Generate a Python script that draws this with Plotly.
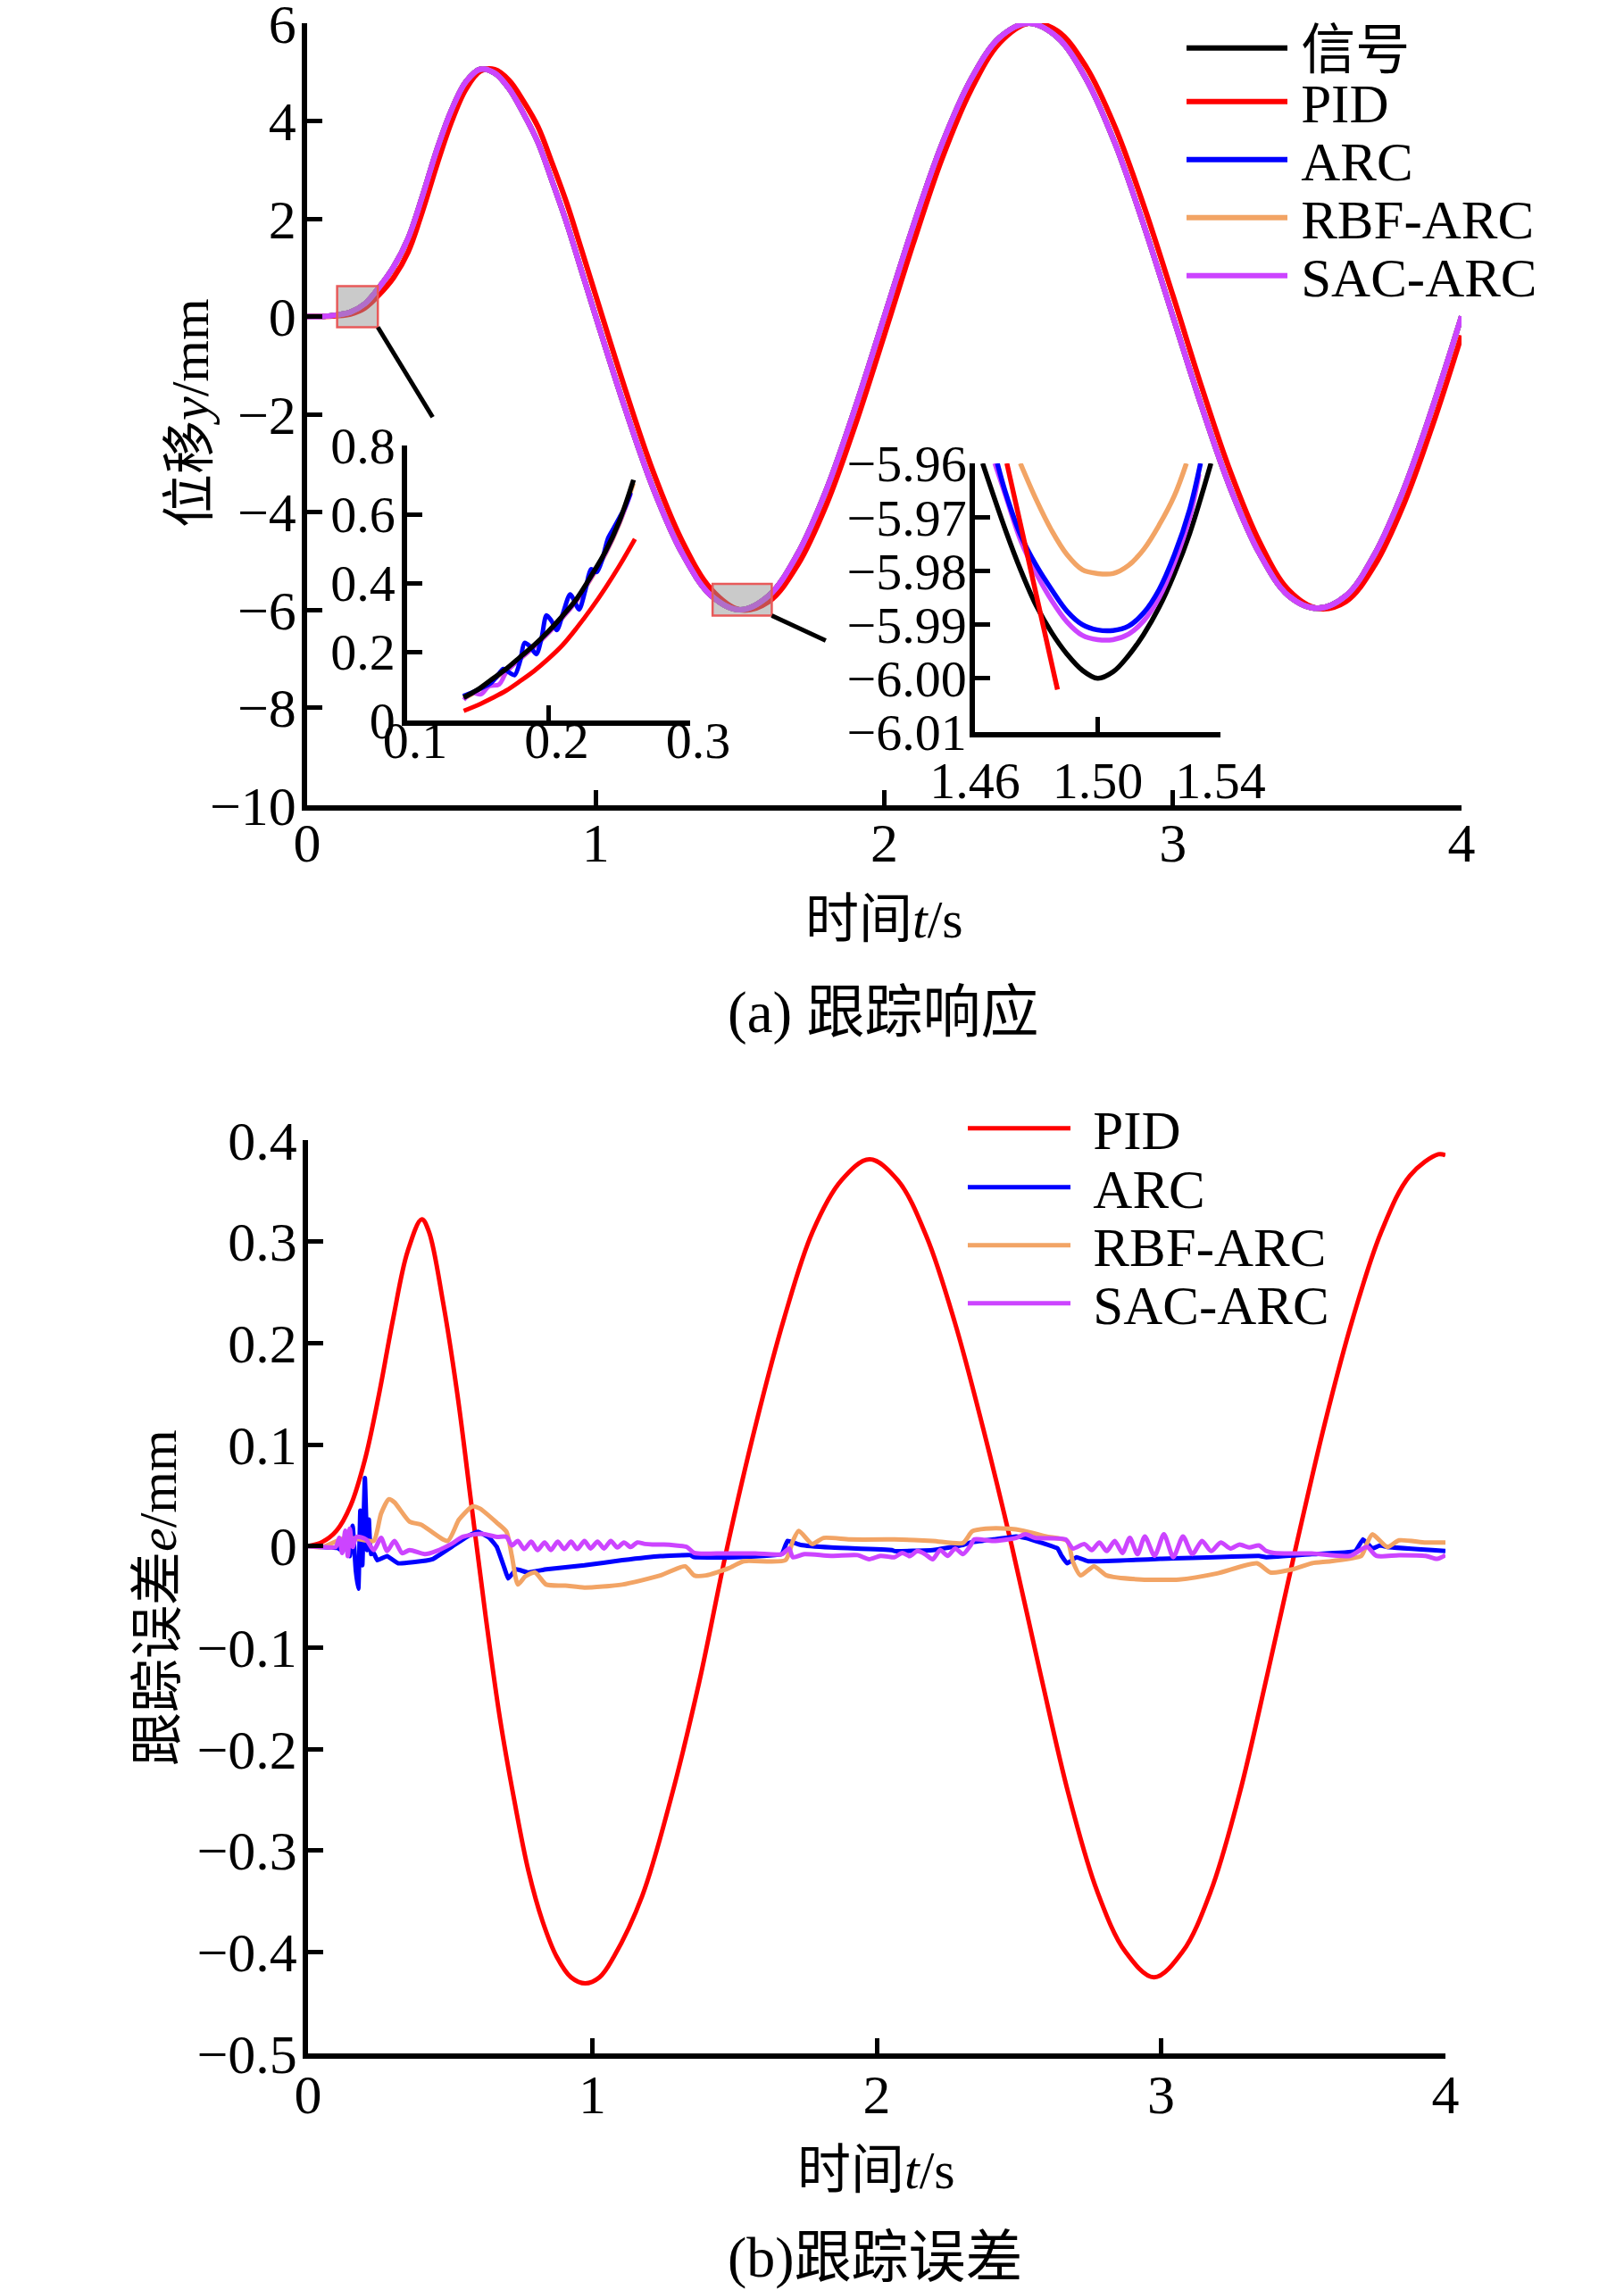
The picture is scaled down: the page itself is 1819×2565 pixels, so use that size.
## Tracking response / tracking error chart
import plotly.graph_objects as go

W, H = 1819, 2565
FONT = "Liberation Serif, Times New Roman, Noto Sans CJK SC, serif"

## (a) tracking response, main curves
t_main = [0.00, 0.05, 0.10, 0.15, 0.20, 0.25, 0.30, 0.35, 0.40, 0.45, 0.50,
          0.55, 0.60, 0.65, 0.70, 0.75, 0.80, 0.85, 0.90, 0.95, 1.00,
          1.1, 1.2, 1.3, 1.4, 1.5, 1.6, 1.7, 1.8, 1.9, 2.0,
          2.1, 2.2, 2.3, 2.4, 2.5, 2.6, 2.7, 2.8, 2.9, 3.0,
          3.1, 3.2, 3.3, 3.4, 3.5, 3.6, 3.7, 3.8, 3.9, 4.0]
sig_y = [0.00, 0.00, 0.03, 0.09, 0.26, 0.60, 1.02, 1.60, 2.47, 3.42, 4.22,
         4.80, 5.06, 4.98, 4.66, 4.15, 3.56, 2.75, 1.90, 0.95, 0.00,
         -1.85, -3.53, -4.85, -5.71, -6.00, -5.71, -4.85, -3.53, -1.85, 0.00,
         1.85, 3.53, 4.85, 5.71, 6.00, 5.71, 4.85, 3.53, 1.85, 0.00,
         -1.85, -3.53, -4.85, -5.71, -5.97, -5.71, -4.85, -3.53, -1.85, 0.00]
pid_y = [0.00, 0.00, 0.015, 0.05, 0.175, 0.45, 0.80, 1.32, 2.16, 3.11, 3.98,
         4.65, 5.02, 5.05, 4.83, 4.40, 3.88, 3.12, 2.31, 1.38, 0.43,
         -1.45, -3.19, -4.60, -5.58, -6.00, -5.83, -5.08, -3.84, -2.21, -0.38,
         1.49, 3.23, 4.63, 5.60, 6.00, 5.84, 5.10, 3.87, 2.25, 0.43,
         -1.45, -3.19, -4.61, -5.59, -5.97, -5.83, -5.08, -3.84, -2.22, -0.39]
# at this scale ARC, RBF-ARC and SAC-ARC sit on the reference signal
arc_y = sig_y
rbf_y = sig_y
sac_y = sig_y

## inset 1 (t = 0.1 .. 0.3)
in1_t = [0.14, 0.15, 0.16, 0.17, 0.18, 0.19, 0.20, 0.21, 0.22, 0.23, 0.24, 0.25, 0.26]
in1_sig = [0.067, 0.09, 0.12, 0.15, 0.185, 0.22, 0.26, 0.305, 0.355, 0.42, 0.49, 0.58, 0.70]
in1_rbf = [0.064, 0.087, 0.116, 0.146, 0.18, 0.215, 0.255, 0.30, 0.35, 0.413, 0.483, 0.572, 0.69]
in1_t_pid = [0.14, 0.15, 0.16, 0.17, 0.18, 0.19, 0.20, 0.21, 0.22, 0.23, 0.24, 0.25, 0.261]
in1_pid = [0.028, 0.045, 0.065, 0.087, 0.115, 0.145, 0.18, 0.22, 0.27, 0.325, 0.385, 0.45, 0.528]
in1_t_arc = [0.1396, 0.145, 0.152, 0.158, 0.163, 0.168, 0.172, 0.176, 0.180, 0.183, 0.187,
             0.1913, 0.195, 0.1985, 0.202, 0.2058, 0.210, 0.2152, 0.218, 0.2215, 0.226,
             0.230, 0.234, 0.238, 0.242, 0.246, 0.250, 0.254, 0.258]
in1_arc = [0.071, 0.080, 0.093, 0.105, 0.125, 0.150, 0.140, 0.132, 0.175, 0.226, 0.215,
           0.193, 0.240, 0.306, 0.290, 0.263, 0.310, 0.367, 0.350, 0.323, 0.380,
           0.440, 0.432, 0.470, 0.530, 0.560, 0.590, 0.620, 0.663]
in1_t_sac = [0.14, 0.146, 0.152, 0.158, 0.165, 0.17, 0.18, 0.19, 0.20, 0.21, 0.22, 0.23, 0.24, 0.25, 0.258]
in1_sac = [0.06, 0.08, 0.076, 0.10, 0.105, 0.14, 0.18, 0.215, 0.255, 0.30, 0.35, 0.415, 0.485, 0.575, 0.66]

## inset 2 (t = 1.46 .. 1.54)
in2_t_sig = [1.4625, 1.47, 1.475, 1.48, 1.485, 1.49, 1.495, 1.50, 1.505, 1.51, 1.515, 1.52, 1.525, 1.53, 1.5369]
in2_sig = [-5.960, -5.9725, -5.980, -5.9865, -5.9915, -5.9955, -5.9985, -6.000, -5.9988, -5.9958,
           -5.9918, -5.9868, -5.9805, -5.973, -5.960]
in2_t_arc = [1.4673, 1.47, 1.475, 1.48, 1.485, 1.49, 1.495, 1.50, 1.505, 1.51, 1.515, 1.52, 1.525, 1.53, 1.5335]
in2_arc = [-5.960, -5.9655, -5.9735, -5.979, -5.9835, -5.9875, -5.990, -5.991, -5.9911, -5.9903,
           -5.9878, -5.9835, -5.977, -5.9685, -5.960]
in2_t_sac = [1.4665, 1.47, 1.475, 1.48, 1.485, 1.49, 1.495, 1.50, 1.505, 1.51, 1.515, 1.52, 1.525, 1.53, 1.533]
in2_sac = [-5.960, -5.966, -5.9745, -5.9805, -5.9855, -5.9895, -5.992, -5.9928, -5.9928, -5.9918,
           -5.9893, -5.985, -5.9785, -5.970, -5.962]
in2_t_rbf = [1.4748, 1.48, 1.485, 1.49, 1.495, 1.50, 1.505, 1.51, 1.515, 1.52, 1.525, 1.5289]
in2_rbf = [-5.960, -5.9668, -5.9725, -5.977, -5.9798, -5.9805, -5.9805, -5.979, -5.976, -5.9715, -5.966, -5.960]
in2_t_pid = [1.4704, 1.4787, 1.4869]
in2_pid = [-5.960, -5.981, -6.0021]

## (b) tracking error
t_pid_e = [0.00, 0.05, 0.10, 0.15, 0.20, 0.25, 0.30, 0.35, 0.40, 0.425, 0.475, 0.525,
           0.575, 0.625, 0.675, 0.725, 0.775, 0.825, 0.875, 0.925, 0.975, 1.025, 1.075,
           1.175, 1.275, 1.375, 1.475, 1.575, 1.675, 1.775, 1.875, 1.975,
           2.075, 2.175, 2.275, 2.375, 2.475, 2.575, 2.675, 2.775, 2.875, 2.975,
           3.075, 3.175, 3.275, 3.375, 3.475, 3.575, 3.675, 3.775, 3.875, 3.975, 4.0]
pid_e = [0.0, 0.004, 0.015, 0.04, 0.085, 0.15, 0.225, 0.29, 0.322, 0.31, 0.24, 0.15,
         0.04, -0.07, -0.17, -0.25, -0.32, -0.37, -0.405, -0.425, -0.431, -0.425, -0.405,
         -0.345, -0.25, -0.135, 0.0, 0.12, 0.225, 0.31, 0.36, 0.381,
         0.36, 0.305, 0.22, 0.115, 0.0, -0.125, -0.245, -0.34, -0.40, -0.425,
         -0.40, -0.34, -0.245, -0.125, 0.0, 0.12, 0.225, 0.31, 0.365, 0.386, 0.385]

t_arc_e = [0.0, 0.050, 0.104, 0.123, 0.137, 0.147, 0.157, 0.168, 0.177, 0.184, 0.191, 0.200,
           0.208, 0.214, 0.221, 0.231, 0.244, 0.278, 0.317, 0.370, 0.438, 0.504, 0.558,
           0.598, 0.638, 0.664, 0.691, 0.704, 0.732, 0.772, 0.838, 0.972, 1.105, 1.239,
           1.345, 1.358, 1.505, 1.666, 1.686, 1.733, 1.839, 2.053, 2.063, 2.197, 2.303,
           2.330, 2.410, 2.490, 2.523, 2.636, 2.650, 2.670, 2.703, 2.743, 2.997, 3.344,
           3.370, 3.530, 3.683, 3.710, 3.743, 3.770, 3.796, 4.00]
arc_e = [0.0, -0.001, -0.002, -0.005, 0.008, -0.010, 0.020, -0.024, -0.042, 0.035, -0.019, 0.067,
         -0.004, 0.026, -0.008, -0.007, -0.014, -0.010, -0.017, -0.016, -0.013, -0.001, 0.009,
         0.014, 0.008, -0.001, -0.022, -0.032, -0.023, -0.026, -0.023, -0.019, -0.014, -0.010,
         -0.009, -0.011, -0.011, -0.008, 0.005, 0.001, -0.0015, -0.004, -0.005, -0.004, 0.001,
         0.0035, 0.0065, 0.0094, 0.008, -0.0024, -0.0097, -0.017, -0.011, -0.015, -0.0127, -0.0097,
         -0.011, -0.008, -0.005, 0.0065, -0.0024, 0.0006, -0.001, -0.005]

t_rbf_e = [0.0, 0.050, 0.131, 0.184, 0.231, 0.257, 0.284, 0.304, 0.357, 0.398, 0.491, 0.531,
           0.578, 0.604, 0.664, 0.698, 0.717, 0.738, 0.764, 0.798, 0.838, 0.905, 0.972,
           1.105, 1.239, 1.326, 1.358, 1.399, 1.479, 1.532, 1.679, 1.705, 1.726, 1.773,
           1.813, 1.906, 2.053, 2.063, 2.197, 2.303, 2.336, 2.383, 2.463, 2.517, 2.596,
           2.670, 2.690, 2.717, 2.764, 2.809, 2.930, 3.063, 3.197, 3.337, 3.384, 3.463,
           3.530, 3.597, 3.704, 3.723, 3.743, 3.796, 3.837, 3.930, 4.00]
rbf_e = [0.0, -0.001, 0.008, 0.0065, 0.005, 0.032, 0.046, 0.043, 0.024, 0.021, 0.005, 0.026,
         0.039, 0.037, 0.023, 0.014, -0.010, -0.038, -0.030, -0.026, -0.038, -0.039, -0.041,
         -0.038, -0.029, -0.020, -0.029, -0.029, -0.022, -0.015, -0.014, 0.005, 0.015, 0.002,
         0.008, 0.0065, 0.0065, 0.0065, 0.005, 0.003, 0.0145, 0.017, 0.017, 0.015, 0.0094,
         0.005, -0.0156, -0.029, -0.020, -0.029, -0.033, -0.033, -0.027, -0.017, -0.026, -0.023,
         -0.017, -0.015, -0.0097, 0.002, 0.0115, -0.001, 0.0056, 0.0035, 0.0035]

t_sac_e = [0.0, 0.050, 0.097, 0.110, 0.120, 0.131, 0.140, 0.147, 0.157, 0.170, 0.204, 0.231,
           0.257, 0.278, 0.304, 0.331, 0.357, 0.411, 0.451, 0.504, 0.544, 0.611, 0.664,
           0.698, 0.717, 0.738, 0.760, 0.785, 0.807, 0.832, 0.854, 0.878, 0.901, 0.925,
           0.947, 0.972, 0.994, 1.018, 1.041, 1.065, 1.088, 1.111, 1.135, 1.158, 1.185,
           1.211, 1.252, 1.292, 1.332, 1.358, 1.439, 1.573, 1.666, 1.692, 1.705, 1.746,
           1.839, 1.933, 1.973, 2.013, 2.053, 2.063, 2.090, 2.116, 2.143, 2.170, 2.197,
           2.223, 2.250, 2.276, 2.303, 2.330, 2.343, 2.410, 2.490, 2.523, 2.557, 2.664,
           2.690, 2.730, 2.756, 2.783, 2.809, 2.837, 2.864, 2.890, 2.917, 2.943, 2.977,
           3.010, 3.043, 3.077, 3.110, 3.144, 3.176, 3.210, 3.244, 3.276, 3.310, 3.344,
           3.370, 3.397, 3.530, 3.664, 3.724, 3.757, 3.837, 3.930, 3.971, 4.00]
sac_e = [0.0, -0.001, -0.001, 0.008, -0.007, 0.015, -0.010, 0.017, -0.001, 0.009, 0.0065, -0.004,
         0.008, -0.005, 0.005, -0.007, -0.004, -0.008, -0.005, 0.002, 0.009, 0.012, 0.009,
         0.009, 0.0006, 0.005, -0.003, 0.0044, -0.004, 0.0035, -0.004, 0.0044, -0.003, 0.0044,
         -0.003, 0.005, -0.0024, 0.0044, -0.0024, 0.005, -0.0015, 0.0035, -0.001, 0.0035, 0.002,
         0.0015, 0.0015, 0.0006, -0.001, -0.0068, -0.0074, -0.0074, -0.008, -0.0024, -0.011, -0.008,
         -0.0097, -0.009, -0.013, -0.0097, -0.011, -0.011, -0.0068, -0.010, -0.005, -0.008, -0.013,
         -0.004, -0.0097, -0.0024, -0.008, 0.0006, 0.0065, 0.005, 0.008, 0.0115, 0.008, 0.0065,
         -0.0024, 0.002, -0.004, 0.0035, -0.005, 0.005, -0.0068, 0.008, -0.008, 0.0094, -0.0097,
         0.0115, -0.011, 0.0094, -0.008, 0.005, -0.005, 0.0035, -0.0024, 0.0015, -0.0015, 0.0006,
         -0.005, -0.0068, -0.0074, -0.0097, -0.001, -0.0097, -0.009, -0.0097, -0.0127, -0.009]

## zoom windows drawn on the main response plot
box1 = dict(x0=0.104, x1=0.245, y0=-0.22, y1=0.62)
box2 = dict(x0=1.405, x1=1.61, y0=-6.12, y1=-5.47)
link1 = dict(x0=0.245, y0=-0.22, x1=0.435, y1=-2.06)
link2 = dict(x0=1.61, y0=-6.12, x1=1.797, y1=-6.63)

C_SIG, C_PID, C_ARC, C_RBF, C_SAC = "#000000", "#ff0000", "#0000ff", "#f2a465", "#cc44ff"

print("data defined")  # ------------------------------------------------------------

fig = go.Figure()


def add_line(x, y, color, xa, ya, width, name=None, legend=None, shape="spline", smooth=1.0, clip=True):
    fig.add_trace(go.Scatter(
        x=x, y=y, mode="lines", name=name,
        line=dict(color=color, width=width, shape=shape, smoothing=smooth),
        xaxis=xa, yaxis=ya, cliponaxis=clip,
        showlegend=legend is not None, legend=legend or "legend",
        hoverinfo="skip",
    ))


## top plot (a thin six-per-em space opens the gap between key line and label)
top = [("信号", sig_y, C_SIG), ("PID", pid_y, C_PID), ("ARC", arc_y, C_ARC),
       ("RBF-ARC", rbf_y, C_RBF), ("SAC-ARC", sac_y, C_SAC)]
for i, (name, y, c) in enumerate(top):
    key = "legend" if i == 0 else "legend%d" % (i + 1)
    add_line(t_main, y, c, "x", "y", 6, name="\u2006" + name, legend=key, clip=False)

## inset 1
add_line(in1_t_pid, in1_pid, C_PID, "x3", "y3", 5)
add_line(in1_t, in1_rbf, C_RBF, "x3", "y3", 5)
add_line(in1_t_sac, in1_sac, C_SAC, "x3", "y3", 5)
add_line(in1_t_arc, in1_arc, C_ARC, "x3", "y3", 5, smooth=0.8)
add_line(in1_t, in1_sig, C_SIG, "x3", "y3", 5.5)

## inset 2
add_line(in2_t_sig, in2_sig, C_SIG, "x4", "y4", 5.5)
add_line(in2_t_rbf, in2_rbf, C_RBF, "x4", "y4", 5.5)
add_line(in2_t_sac, in2_sac, C_SAC, "x4", "y4", 5.5)
add_line(in2_t_arc, in2_arc, C_ARC, "x4", "y4", 5.5)
add_line(in2_t_pid, in2_pid, C_PID, "x4", "y4", 5.5, shape="linear")

## bottom plot
bottom = [("PID", t_pid_e, pid_e, C_PID, 1.0), ("ARC", t_arc_e, arc_e, C_ARC, 0.3),
          ("RBF-ARC", t_rbf_e, rbf_e, C_RBF, 0.6), ("SAC-ARC", t_sac_e, sac_e, C_SAC, 0.7)]
for i, (name, t, e, c, sm) in enumerate(bottom):
    key = "legend%d" % (i + 6)
    add_line(t, e, c, "x2", "y2", 5, name="\u2004" + name, legend=key, smooth=sm)

print("traces added")  # ------------------------------------------------------------


def axis_style(size=62, standoff=0, shift=0):
    return dict(showline=True, linecolor="black", linewidth=5.5, ticks="inside",
                ticklen=17, tickwidth=5, tickcolor="black", showgrid=False,
                zeroline=False, mirror=False, ticklabelstandoff=standoff,
                ticklabelshift=shift, automargin=False, ticklabeloverflow="allow",
                tickfont=dict(family=FONT, size=size, color="black"))


def dom_x(a, b):
    return [a / W, b / W]


def dom_y(top_px, bottom_px):
    return [1 - bottom_px / H, 1 - top_px / H]


fig.update_layout(
    width=W, height=H,
    margin=dict(l=0, r=0, t=0, b=0, pad=0, autoexpand=False),
    paper_bgcolor="white", plot_bgcolor="rgba(0,0,0,0)",
    font=dict(family=FONT, size=60, color="black"),
    xaxis=dict(domain=dom_x(344, 1637), range=[0, 4], tickvals=[0, 1, 2, 3, 4], anchor="y",
               **axis_style(standoff=-17)),
    yaxis=dict(domain=dom_y(26, 902), range=[-10, 6], tickvals=list(range(-10, 7, 2)), anchor="x",
               **axis_style(standoff=-6)),
    xaxis2=dict(domain=dom_x(345, 1619), range=[0, 4], tickvals=[0, 1, 2, 3, 4], anchor="y2",
                **axis_style(standoff=-13)),
    yaxis2=dict(domain=dom_y(1277, 2300), range=[-0.5, 0.4],
                tickvals=[-0.5, -0.4, -0.3, -0.2, -0.1, 0, 0.1, 0.2, 0.3, 0.4], anchor="x2",
                **axis_style(standoff=-6)),
    xaxis3=dict(domain=dom_x(456, 773), range=[0.1, 0.3], tickvals=[0.1, 0.2, 0.3], anchor="y3",
                **axis_style(58, standoff=-33, shift=9)),
    yaxis3=dict(domain=dom_y(499, 807), range=[0, 0.8], tickvals=[0, 0.2, 0.4, 0.6, 0.8], anchor="x3",
                **axis_style(58, standoff=-4)),
    xaxis4=dict(domain=dom_x(1092, 1367), range=[1.46, 1.54], tickvals=[1.46, 1.50, 1.54],
                tickformat=".2f", anchor="y4", **axis_style(58, standoff=-1)),
    yaxis4=dict(domain=dom_y(519, 820), range=[-6.01, -5.96],
                tickvals=[-6.01, -6.00, -5.99, -5.98, -5.97, -5.96], tickformat=".2f", anchor="x4",
                **axis_style(58, standoff=-8)),
)

## one small legend per entry so the rows sit as tightly as in the figure
leg_pos = [(1324, 54), (1324, 114), (1324, 179), (1324, 244), (1324, 309),
           (1079, 1264), (1079, 1330), (1079, 1395), (1079, 1460)]
leg_width = [113] * 5 + [115] * 4
for k, ((lx, ly), iw) in enumerate(zip(leg_pos, leg_width)):
    key = "legend" if k == 0 else "legend%d" % (k + 1)
    fig.update_layout({key: dict(
        x=lx / W, y=1 - ly / H, xanchor="left", yanchor="middle",
        bgcolor="rgba(0,0,0,0)", borderwidth=0, itemwidth=iw,
        font=dict(family=FONT, size=61, color="black"))})

## zoom boxes and leader lines
for b in (box1, box2):
    fig.add_shape(type="rect", xref="x", yref="y", layer="above",
                  fillcolor="rgba(150,150,150,0.5)", line=dict(color="#e85a5a", width=2.5), **b)
for ln in (link1, link2):
    fig.add_shape(type="line", xref="x", yref="y", layer="above",
                  line=dict(color="black", width=5), **ln)

## axis titles and captions
texts = [
    ("位移<i>y</i>/mm", 213, 463, -90, 60),
    ("时间<i>t</i>/s", 990, 1030, 0, 60),
    ("(a) 跟踪响应", 989, 1134, 0, 65),
    ("跟踪误差<i>e</i>/mm", 177, 1790, -90, 60),
    ("时间<i>t</i>/s", 981, 2431, 0, 60),
    ("(b)跟踪误差", 980, 2528, 0, 64),
]
for txt, px, py, ang, sz in texts:
    fig.add_annotation(text=txt, x=px / W, y=1 - py / H, xref="paper", yref="paper",
                       xanchor="center", yanchor="middle", textangle=ang, showarrow=False,
                       font=dict(family=FONT, size=sz, color="black"))

print("layout done")  # ------------------------------------------------------------
# the page body keeps its default 8px margin otherwise
fig.write_html("out.html", config={"displayModeBar": False},
               post_script="document.body.style.margin='0';")
